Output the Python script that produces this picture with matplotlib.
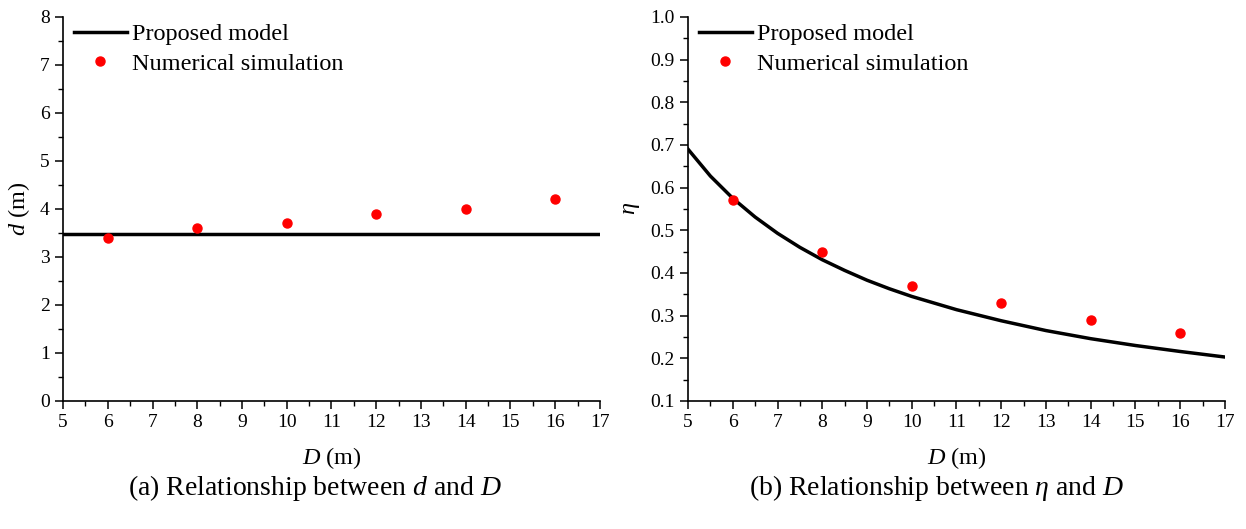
import numpy as np
import matplotlib
matplotlib.use('Agg')
import matplotlib.pyplot as plt
from matplotlib.ticker import MultipleLocator

plt.rcParams['font.family'] = ['Liberation Serif', 'DejaVu Serif']
plt.rcParams['mathtext.fontset'] = 'custom'
plt.rcParams['mathtext.rm'] = 'Liberation Serif'
plt.rcParams['mathtext.it'] = 'Liberation Serif:italic'

# data
D_sim = [6, 8, 10, 12, 14, 16]
d_sim = [3.4, 3.6, 3.7, 3.9, 4.0, 4.2]
eta_sim = [0.57, 0.45, 0.37, 0.33, 0.29, 0.26]

D_model = [5, 17]
d_model = [3.47, 3.47]

D_curve = [5, 5.5, 6, 6.5, 7, 7.5, 8, 8.5, 9, 9.5, 10, 11, 12, 13, 14, 15, 16, 17]
eta_curve = [0.690, 0.627, 0.575, 0.531, 0.493, 0.460, 0.431, 0.406, 0.383, 0.363,
             0.345, 0.314, 0.288, 0.265, 0.246, 0.230, 0.216, 0.203]

fig = plt.figure(figsize=(12.46, 5.29), dpi=100)
ax1 = fig.add_axes([0.0506, 0.242, 0.4309, 0.726])
ax2 = fig.add_axes([0.5522, 0.242, 0.4309, 0.726])


def style(ax):
    ax.spines['top'].set_visible(False)
    ax.spines['right'].set_visible(False)
    ax.spines['left'].set_linewidth(1.2)
    ax.spines['bottom'].set_linewidth(1.2)
    ax.tick_params(which='major', direction='out', length=6, width=1.1, labelsize=14)
    ax.tick_params(which='minor', direction='out', length=3.5, width=1.0)
    ax.xaxis.set_major_locator(MultipleLocator(1))
    ax.xaxis.set_minor_locator(MultipleLocator(0.5))
    ax.set_xlim(5, 17)
    ax.set_xlabel('$D$ (m)', fontsize=17.5, labelpad=10)


def legend(ax):
    ax.legend(loc='upper left', frameon=False, fontsize=17.5, handlelength=2.2,
              borderaxespad=0, borderpad=0.1, labelspacing=0.3, handletextpad=0.2,
              bbox_to_anchor=(0.015, 0.99))


# (a)
ax1.plot(D_model, d_model, color='black', lw=2.5, label='Proposed model')
ax1.plot(D_sim, d_sim, 'o', color='red', ms=6.5, label='Numerical simulation')
style(ax1)
ax1.set_ylim(0, 8)
ax1.yaxis.set_major_locator(MultipleLocator(1))
ax1.yaxis.set_minor_locator(MultipleLocator(0.5))
ax1.set_ylabel('$d$ (m)', fontsize=17.5, labelpad=6)
legend(ax1)

# (b)
ax2.plot(D_curve, eta_curve, color='black', lw=2.5, label='Proposed model')
ax2.plot(D_sim, eta_sim, 'o', color='red', ms=6.5, label='Numerical simulation')
style(ax2)
ax2.set_ylim(0.1, 1.0)
ax2.yaxis.set_major_locator(MultipleLocator(0.1))
ax2.yaxis.set_minor_locator(MultipleLocator(0.05))
ax2.yaxis.set_major_formatter(plt.FormatStrFormatter('%.1f'))
ax2.set_ylabel(r'$\eta$', fontsize=17.5, labelpad=6)
legend(ax2)

fig.text(0.253, 0.077, '(a) Relationship between $d$ and $D$', ha='center', va='center', fontsize=20)
fig.text(0.752, 0.077, r'(b) Relationship between $\eta$ and $D$', ha='center', va='center', fontsize=20)

fig.savefig('out.png', dpi=100)
